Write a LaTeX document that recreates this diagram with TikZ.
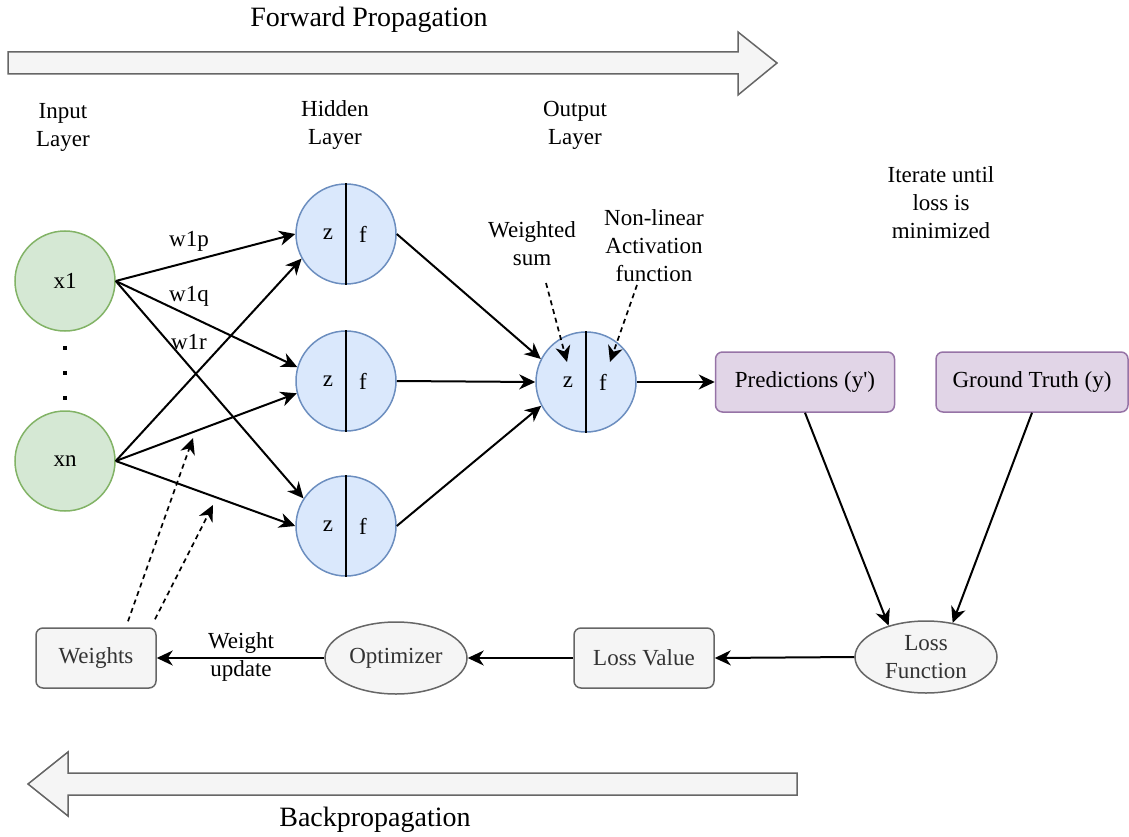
\documentclass[tikz,border=0pt]{standalone}
\usepackage{fontspec}
\setmainfont{Liberation Serif}[Ligatures=TeXOff]
\usepackage{tikz}
\usetikzlibrary{positioning}
\usetikzlibrary{shapes.geometric}
\usetikzlibrary{arrows.meta}
\definecolor{inputFill}{HTML}{D5E8D4}
\definecolor{inputLine}{HTML}{82B366}
\definecolor{neuronFill}{HTML}{DAE8FC}
\definecolor{neuronLine}{HTML}{6C8EBF}
\definecolor{resultFill}{HTML}{E1D5E7}
\definecolor{resultLine}{HTML}{9673A6}
\definecolor{grayFill}{HTML}{F5F5F5}
\definecolor{grayLine}{HTML}{666666}
\definecolor{grayText}{HTML}{333333}

\begin{document}
\begin{tikzpicture}[x=1pt,y=-1pt,font=\fontsize{23}{28}\selectfont]

          \tikzstyle{inputNode} = [circle, draw=inputLine, fill=inputFill, line width=1.5pt, minimum size=100pt, inner sep=0pt];
          \tikzstyle{neuronNode} = [circle, draw=neuronLine, fill=neuronFill, line width=1.5pt, minimum size=100pt, inner sep=0pt];
          \tikzstyle{resultNode} = [rectangle, rounded corners=7pt, draw=resultLine, fill=resultFill, line width=1.5pt, minimum height=60pt, inner sep=0pt];
          \tikzstyle{grayBox} = [rectangle, rounded corners=7pt, draw=grayLine, fill=grayFill, text=grayText, line width=1.5pt, minimum height=60pt, inner sep=0pt];
          \tikzstyle{grayOval} = [ellipse, draw=grayLine, fill=grayFill, text=grayText, line width=1.5pt, minimum width=142pt, minimum height=72pt, inner sep=0pt, align=center];
          \tikzstyle{textNode} = [align=center, inner sep=0pt];
          \tikzstyle{bigText} = [inner sep=0pt, font=\fontsize{28}{33}\selectfont];

          \tikzstyle{bigArrow} = [draw=grayLine, fill=grayFill, line width=1.5pt, line join=miter];
          \tikzstyle{normalEdge} = [line width=2pt, -{Stealth[length=16pt, width=15pt, inset=5pt]}];
          \tikzstyle{noteEdge} = [line width=1.7pt, dash pattern=on 5pt off 4pt, -{Stealth[length=16pt, width=15pt, inset=5pt]}];
          \tikzstyle{splitLine} = [line width=2pt];

          \useasboundingbox (0,0) rectangle (1129,837);

          % direction arrows
          \draw[bigArrow] (8,52) -- (738,52) -- (738,32) -- (777,63) -- (738,95) -- (738,74) -- (8,74) -- cycle;
          \draw[bigArrow] (797,773) -- (68,773) -- (68,752) -- (28,784) -- (68,816) -- (68,795) -- (797,795) -- cycle;
          \node[bigText] (fwd) at (369,20) {Forward Propagation};
          \node[bigText] (bwd) at (375,820) {Backpropagation};

          % layer titles
          \node[textNode] (inTitle) at (63,127) {Input\\Layer};
          \node[textNode] (hidTitle) at (335,125) {Hidden\\Layer};
          \node[textNode] (outTitle) at (575,125) {Output\\Layer};

          % input layer
          \node[inputNode] (x1) at (65,281) {x1};
          \node[inputNode] (xn) at (65,461) {xn};
          \draw[line width=4.5pt, dash pattern=on 4pt off 21pt, shorten <=14pt, shorten >=9pt] (x1.south) -- (xn.north);

          % hidden layer
          \node[neuronNode] (h1) at (346,234) {};
          \node[neuronNode] (h2) at (346,381) {};
          \node[neuronNode] (h3) at (346,526) {};
          \foreach \h in {h1,h2,h3} {
            \draw[splitLine] (\h.north) -- (\h.south);
            \node[textNode] (\h z) at ([xshift=-18pt]\h.center) {z};
            \node[textNode] (\h f) at ([xshift=17pt]\h.center) {f};
          }

          % output layer
          \node[neuronNode] (out) at (586,382) {};
          \draw[splitLine] (out.north) -- (out.south);
          \node[textNode] (outz) at ([xshift=-18pt]out.center) {z};
          \node[textNode] (outf) at ([xshift=17pt]out.center) {f};

          \node[textNode] (ws) at (532,244) {Weighted\\sum};
          \node[textNode] (nla) at (654,246) {Non-linear\\Activation\\function};
          \coordinate (wsTip) at (567,362);
          \coordinate (nlaTip) at (610,362);
          \draw[noteEdge] ([shift={(14,39)}]ws.center) -- (wsTip);
          \draw[noteEdge] ([shift={(-17,39)}]nla.center) -- (nlaTip);

          % weights
          \draw[normalEdge] (x1.east) -- (h1.west);
          \draw[normalEdge] (x1.east) -- (h2.164);
          \draw[normalEdge] (x1.east) -- (h3.147);
          \draw[normalEdge] (xn.east) -- (h1.209);
          \draw[normalEdge] (xn.east) -- (h2.194);
          \draw[normalEdge] (xn.east) -- (h3.west);
          \node[textNode] (w1p) at (189,241) {w1p};
          \node[textNode] (w1q) at (189,296) {w1q};
          \node[textNode] (w1r) at (189,342) {w1r};

          \draw[normalEdge] (h1.east) -- (out.153);
          \draw[normalEdge] (h2.east) -- (out.west);
          \draw[normalEdge] (h3.east) -- (out.208);

          % loss
          \node[resultNode, minimum width=179pt] (pred) at (805,382) {Predictions (y')};
          \node[resultNode, minimum width=192pt] (truth) at (1032,382) {Ground Truth (y)};
          \node[textNode] (iter) at (941,203) {Iterate until\\loss is\\minimized};
          \draw[normalEdge] (out.east) -- (pred.west);

          \node[grayOval] (lossFn) at (926,657) {Loss\\Function};
          \node[grayBox, minimum width=140pt] (lossVal) at (644,658) {Loss Value};
          \node[grayOval] (opt) at (396,658) {Optimizer};
          \node[grayBox, minimum width=120pt] (weights) at (96,658) {Weights};
          \node[textNode] (upd) at (241,657) {Weight\\update};

          \draw[normalEdge] (pred.south) -- (lossFn.140);
          \draw[normalEdge] (truth.south) -- (lossFn.52);
          \draw[normalEdge] (lossFn.west) -- (lossVal.east);
          \draw[normalEdge] (lossVal.west) -- (opt.east);
          \draw[normalEdge] (opt.west) -- (weights.east);

          % updating the weights
          \coordinate (updA) at (193,438);
          \coordinate (updB) at (213,505);
          \draw[noteEdge] ([shift={(32,-6)}]weights.north) -- (updA);
          \draw[noteEdge] ([shift={(59,-8)}]weights.north) -- (updB);
        \end{tikzpicture}
\end{document}
